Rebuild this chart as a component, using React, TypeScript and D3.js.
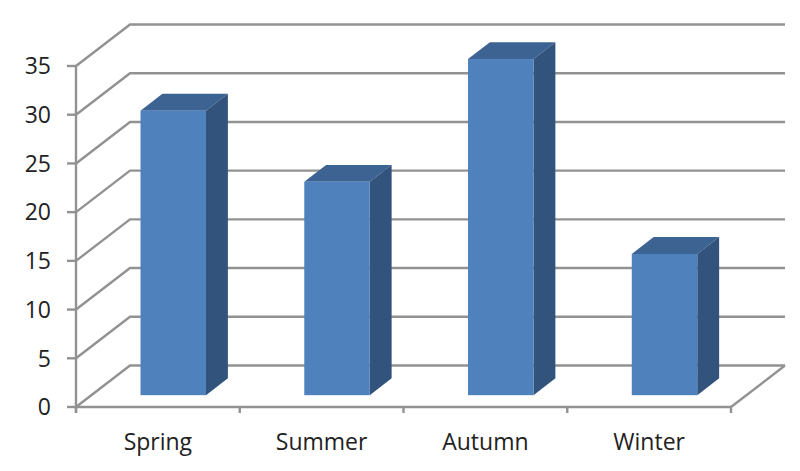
import React from 'react';
import * as d3 from 'd3';

const categories = ['Spring', 'Summer', 'Autumn', 'Winter'];
const values = [29.2, 21.9, 34.5, 14.5];
const yTicks = [0, 5, 10, 15, 20, 25, 30, 35];

const width = 800;
const height = 471;

// front plane of the 3D box, back wall is shifted by depth
const frontLeft = 76;
const frontRight = 731;
const floorY = 407;
const topY = 66;
const depthX = 54;
const depthY = -41.5;
const barDepthStart = 0.285;
const barDepthEnd = 0.69;

const gridColor = '#929292';
const frontColor = '#4f81bd';
const topColor = '#3c6392';
const sideColor = '#31537c';
const font = '"Open Sans", sans-serif';

const App: React.FC = () => {
  const x = d3.scaleBand<string>()
    .domain(categories)
    .range([frontLeft, frontRight])
    .paddingInner(0.6)
    .paddingOuter(0.3);

  const y = d3.scaleLinear().domain([0, 35]).range([floorY, topY]);

  const step = x.step();
  const edges = d3.range(categories.length + 1).map(i => frontLeft + i * step);
  const bw = x.bandwidth();

  const ox = barDepthStart * depthX;
  const oy = barDepthStart * depthY;
  const dx = (barDepthEnd - barDepthStart) * depthX;
  const dy = (barDepthEnd - barDepthStart) * depthY;

  const poly = d3.line<[number, number]>();

  return (
    <svg
      width={width}
      height={height}
      style={{ position: 'absolute', left: 0, top: 0, background: '#fff' }}
      fontFamily={font}
    >
      {/* Walls */}
      <g fill="none" stroke={gridColor} strokeWidth={2.4}>
        {yTicks.map(t => (
          <path
            key={t}
            d={poly([
              [frontLeft, y(t)],
              [frontLeft + depthX, y(t) + depthY],
              [frontRight + depthX, y(t) + depthY],
            ]) ?? ''}
          />
        ))}
        <path d={poly([
          [frontRight, floorY],
          [frontRight + depthX, floorY + depthY],
        ]) ?? ''} />
        <line x1={frontLeft} x2={frontLeft} y1={topY} y2={floorY + 6} />
        <line x1={frontLeft} x2={frontRight} y1={floorY} y2={floorY} />
        {yTicks.map(t => (
          <line key={t} x1={frontLeft - 9} x2={frontLeft} y1={y(t)} y2={y(t)} />
        ))}
        {edges.map(e => (
          <line key={e} x1={e} x2={e} y1={floorY} y2={floorY + 6} />
        ))}
      </g>

      {/* Bars */}
      {categories.map((c, i) => {
        const x0 = (x(c) ?? 0) + ox;
        const x1 = x0 + bw;
        const yTop = y(values[i]) + oy;
        const yBase = y(0) + oy;
        return (
          <g key={c}>
            <path
              fill={topColor}
              d={(poly([
                [x0, yTop],
                [x0 + dx, yTop + dy],
                [x1 + dx, yTop + dy],
                [x1, yTop],
              ]) ?? '') + 'Z'}
            />
            <path
              fill={sideColor}
              d={(poly([
                [x1, yTop],
                [x1 + dx, yTop + dy],
                [x1 + dx, yBase + dy],
                [x1, yBase],
              ]) ?? '') + 'Z'}
            />
            <rect x={x0} y={yTop} width={bw} height={yBase - yTop} fill={frontColor} />
          </g>
        );
      })}

      {/* Labels */}
      <g fontSize={23} fill="#222">
        {yTicks.map(t => (
          <text key={t} x={51} y={y(t)} dy="0.36em" textAnchor="end">{t}</text>
        ))}
        {categories.map(c => (
          <text key={c} x={(x(c) ?? 0) + bw / 2} y={450} textAnchor="middle">{c}</text>
        ))}
      </g>
    </svg>
  );
};

export default App;
